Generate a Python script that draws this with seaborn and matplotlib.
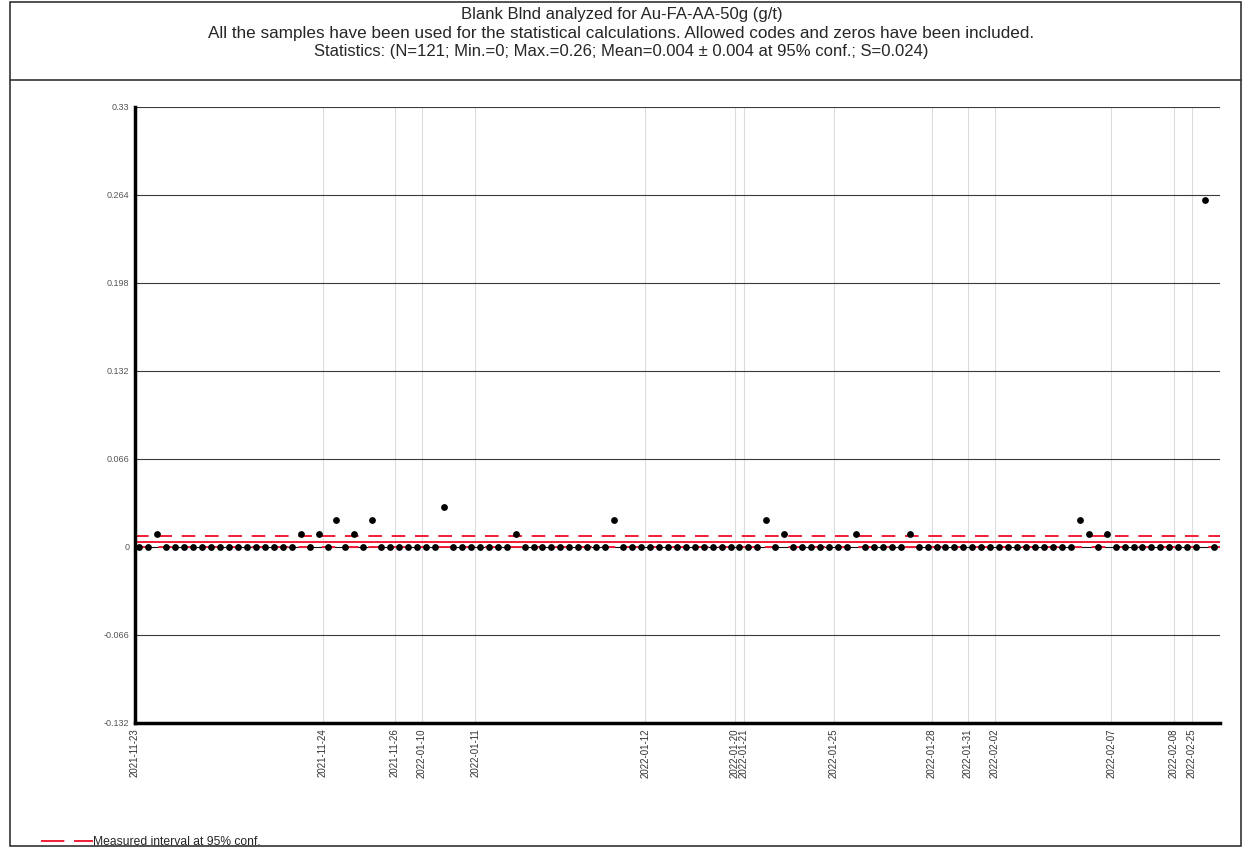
import numpy as np
import pandas as pd
import seaborn as sns
import matplotlib.pyplot as plt
from matplotlib.lines import Line2D
from matplotlib.patches import Rectangle

# sample index -> value (g/t); all other samples are 0
n_samples = 121
hit_index = [2, 18, 20, 22, 24, 26, 34, 42, 53, 70, 72, 80, 86, 105, 106, 108, 119]
hit_value = [0.01, 0.01, 0.01, 0.02, 0.01, 0.02, 0.03, 0.01, 0.02, 0.02, 0.01, 0.01, 0.01, 0.02, 0.01, 0.01, 0.26]

# first sample of each analysis date
date_start = [0, 21, 29, 32, 38, 57, 67, 68, 78, 89, 93, 96, 109, 116, 118]
date_label = ['2021-11-23', '2021-11-24', '2021-11-26', '2022-01-10', '2022-01-11', '2022-01-12',
              '2022-01-20', '2022-01-21', '2022-01-25', '2022-01-28', '2022-01-31', '2022-02-02',
              '2022-02-07', '2022-02-08', '2022-02-25']

y_ticks = [-0.132, -0.066, 0, 0.066, 0.132, 0.198, 0.264, 0.33]
y_tick_labels = ['-0.132', '-0.066', '0', '0.066', '0.132', '0.198', '0.264', '0.33']

mean_val = 0.004
conf = 0.004

values = np.zeros(n_samples)
values[hit_index] = hit_value
df = pd.DataFrame({'sample': np.arange(n_samples), 'value': values})

sns.set_style('white')
plt.rcParams['font.family'] = ['Liberation Sans', 'DejaVu Sans']

fig = plt.figure(figsize=(12.43, 8.47), dpi=100)
ax = fig.add_axes([0.1086, 0.1464, 0.8725, 0.7273])

red = '#f21c38'
ax.set_xlim(-0.45, 120.6)
ax.set_ylim(-0.132, 0.33)

for t in y_ticks:
    ax.axhline(t, color='#3a3a3a' if t != 0 else '#111111', lw=0.8, zorder=1)
for s in date_start:
    ax.axvline(s - 0.5, color='#dcdcdc', lw=0.8, zorder=0)

ax.axhline(mean_val, color=red, lw=1.4, zorder=2)
ax.axhline(mean_val + conf, color=red, lw=1.4, dashes=(7, 5), zorder=2)
ax.axhline(mean_val - conf, color=red, lw=1.4, dashes=(7, 5), zorder=2)

sns.scatterplot(data=df, x='sample', y='value', color='black', s=24, edgecolor='black',
                linewidth=0, zorder=3, ax=ax)

ax.set_yticks(y_ticks)
ax.set_yticklabels(y_tick_labels)
ax.set_xticks([s - 0.5 for s in date_start])
ax.set_xticklabels(date_label, rotation=90)
ax.tick_params(axis='y', labelsize=6.5, colors='#555555', length=2, pad=2)
ax.tick_params(axis='x', labelsize=7, colors='#333333', length=0, pad=4)
ax.set_xlabel('')
ax.set_ylabel('')
for side in ['top', 'right']:
    ax.spines[side].set_visible(False)
for side in ['left', 'bottom']:
    ax.spines[side].set_linewidth(2.5)
    ax.spines[side].set_color('black')

# frame and header box
fig.patches.append(Rectangle((0.008, 0.001), 0.99, 0.997, transform=fig.transFigure,
                             fill=False, edgecolor='#333333', lw=1.2))
fig.add_artist(Line2D([0.008, 0.998], [0.9056, 0.9056], transform=fig.transFigure,
                      color='#333333', lw=1.2))

fig.text(0.5, 0.9825, 'Blank Blnd analyzed for Au-FA-AA-50g (g/t)', ha='center', va='center', fontsize=12)
fig.text(0.5, 0.9605, 'All the samples have been used for the statistical calculations. Allowed codes and zeros have been included.',
         ha='center', va='center', fontsize=12.3)
fig.text(0.5, 0.9395, 'Statistics: (N=121; Min.=0; Max.=0.26; Mean=0.004 \u00b1 0.004 at 95% conf.; S=0.024)',
         ha='center', va='center', fontsize=12)

handle = Line2D([], [], color=red, lw=1.4, dashes=(12, 5))
fig.legend(handles=[handle], labels=['Measured interval at 95% conf.'], loc='lower left',
           bbox_to_anchor=(0.024, -0.014), frameon=False, fontsize=8.7,
           handlelength=4.3, handletextpad=0.05)

fig.savefig('out.png', dpi=100)
